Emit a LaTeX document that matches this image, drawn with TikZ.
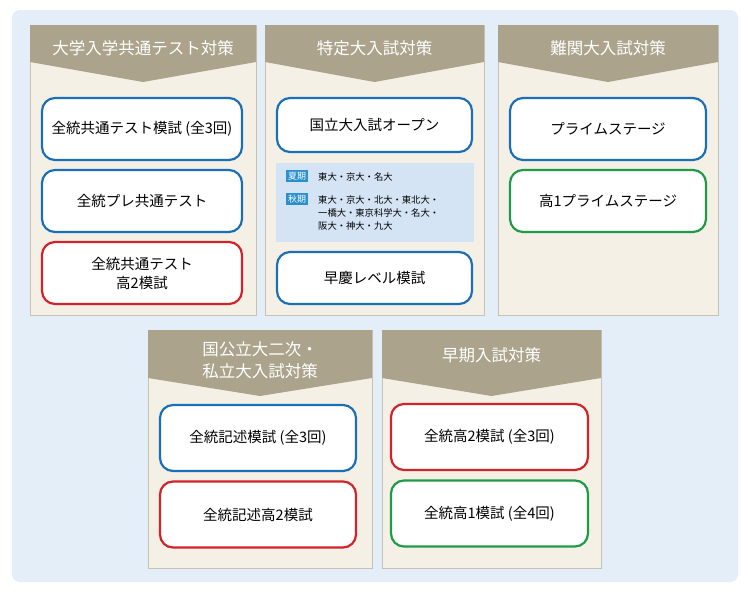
\documentclass[tikz,border=0pt]{standalone}
\usepackage{fontspec}
\setmainfont{Noto Sans CJK JP}
\begin{document}
\begin{tikzpicture}[x=1pt,y=-1pt,
  panel/.style={fill=panelbg,draw=panelline,line width=0.8pt},
  hdr/.style={fill=hdrc,draw=none},
  htext/.style={text=white,font=\fontsize{16.5}{20}\selectfont,align=center},
  item/.style={draw,fill=white,line width=2.2pt,rounded corners=13pt,font=\fontsize{14.5}{19}\selectfont,align=center,inner sep=0pt},
  tag/.style={fill=tagc,text=white,font=\fontsize{9}{10}\selectfont,inner sep=1.8pt},
  small/.style={font=\fontsize{9.3}{13}\selectfont,align=left,anchor=north west,inner sep=0pt}]
\definecolor{bgc}{HTML}{E3EEF8}
\definecolor{panelbg}{HTML}{F4F0E6}
\definecolor{panelline}{HTML}{C8C2B2}
\definecolor{hdrc}{HTML}{ABA38B}
\definecolor{bluec}{HTML}{1B6FB5}
\definecolor{redc}{HTML}{D2232A}
\definecolor{greenc}{HTML}{1F9A48}
\definecolor{infoc}{HTML}{D4E4F5}
\definecolor{tagc}{HTML}{2A8FCB}
\useasboundingbox (0,0) rectangle (750,600);
\fill[white] (0,0) rectangle (750,600);
\fill[bgc,rounded corners=8pt] (12,10) rectangle (738,582);
\foreach \l/\r/\t/\b/\hb/\hp in {30/256/25/315/62/82, 265/484/25/315/62/82, 498/718/25/315/62/82, 148/372/330/568/378/396, 382/601/330/568/378/396}{
  \draw[panel] (\l,\t) rectangle (\r,\b);
  \fill[hdrc] (\l,\t) -- (\r,\t) -- (\r,\hb) -- ({(\l+\r)/2},\hp) -- (\l,\hb) -- cycle;
}
\node[htext] (h1) at (143,48) {大学入学共通テスト対策};
\node[htext] (h2) at (374.5,48) {特定大入試対策};
\node[htext] (h3) at (608,48) {難関大入試対策};
\node[htext,font=\fontsize{16.5}{22}\selectfont] (h4) at (260,360) {国公立大二次・\\私立大入試対策};
\node[htext] (h5) at (491.5,355) {早期入試対策};
\node[item,draw=bluec,minimum width=200pt,minimum height=62pt] (a1) at (142,129) {全統共通テスト模試 (全3回)};
\node[item,draw=bluec,minimum width=200pt,minimum height=62pt] (a2) at (142,201) {全統プレ共通テスト};
\node[item,draw=redc,minimum width=200pt,minimum height=62pt] (a3) at (142,273) {全統共通テスト\\高2模試};
\node[item,draw=bluec,minimum width=195pt,minimum height=54pt] (b1) at (374.5,125) {国立大入試オープン};
\fill[infoc] (276,163) rectangle (474,242);
\node[tag,anchor=north west] (t1) at (286,170) {夏期};
\node[small] (s1) at (318,172) {東大・京大・名大};
\node[tag,anchor=north west] (t2) at (286,193) {秋期};
\node[small] (s2) at (318,195) {東大・京大・北大・東北大・\\一橋大・東京科学大・名大・\\阪大・神大・九大};
\node[item,draw=bluec,minimum width=195pt,minimum height=52pt] (b2) at (374.5,278) {早慶レベル模試};
\node[item,draw=bluec,minimum width=196pt,minimum height=62pt] (c1) at (608,129) {プライムステージ};
\node[item,draw=greenc,minimum width=196pt,minimum height=62pt] (c2) at (608,201) {高1プライムステージ};
\node[item,draw=bluec,minimum width=196pt,minimum height=66pt] (d1) at (258,438) {全統記述模試 (全3回)};
\node[item,draw=redc,minimum width=196pt,minimum height=66pt] (d2) at (258,514.5) {全統記述高2模試};
\node[item,draw=redc,minimum width=197pt,minimum height=66pt] (e1) at (489.5,437) {全統高2模試 (全3回)};
\node[item,draw=greenc,minimum width=197pt,minimum height=66pt] (e2) at (489.5,513.5) {全統高1模試 (全4回)};
\end{tikzpicture}
\end{document}
